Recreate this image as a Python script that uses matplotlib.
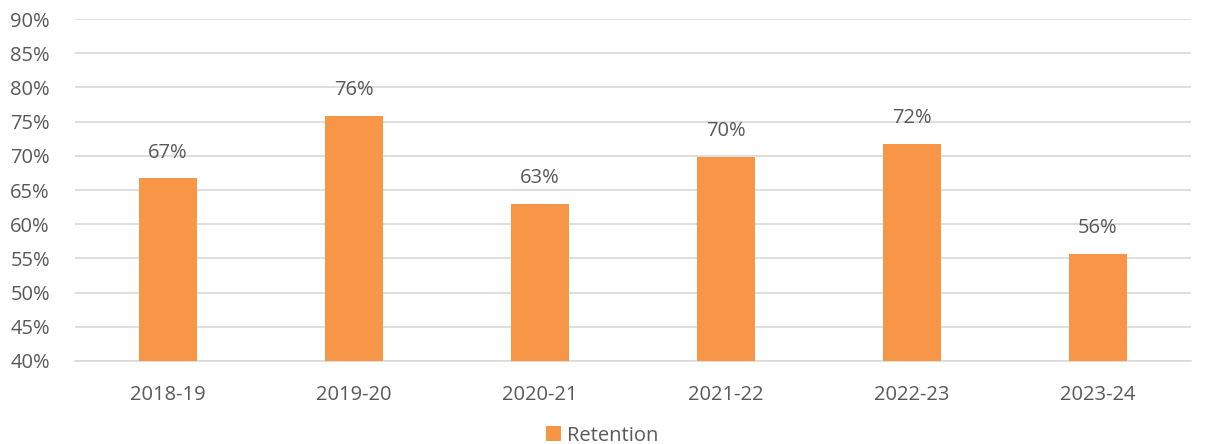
import matplotlib
matplotlib.use("Agg")
import matplotlib.pyplot as plt
from matplotlib.ticker import FuncFormatter

plt.rcParams['font.family'] = ['Open Sans', 'DejaVu Sans']

years = ["2018-19", "2019-20", "2020-21", "2021-22", "2022-23", "2023-24"]
retention = [66.7, 75.8, 63.0, 69.8, 71.8, 55.7]

bar_color = "#F79646"
text_color = "#595959"
grid_color = "#D9D9D9"

fig = plt.figure(figsize=(12.05, 4.44), dpi=100)
ax = fig.add_axes([0.0622, 0.187, 0.926, 0.770])

x = list(range(len(years)))
bars = ax.bar(x, retention, width=0.31, color=bar_color, label="Retention", zorder=3)

for xi, v in zip(x, retention):
    ax.text(xi, v + 2.3, f"{round(v)}%", ha="center", va="bottom",
            fontsize=14.5, color=text_color)

ax.set_ylim(40, 90)
ax.set_xlim(-0.5, len(years) - 0.5)
ax.set_yticks(range(40, 91, 5))
ax.yaxis.set_major_formatter(FuncFormatter(lambda v, p: f"{int(v)}%"))
ax.set_xticks(x)
ax.set_xticklabels(years)
ax.tick_params(axis="both", length=0, labelsize=14.5, labelcolor=text_color)
ax.tick_params(axis="x", pad=17)
ax.tick_params(axis="y", pad=18)
ax.grid(axis="y", color=grid_color, linewidth=1.2, zorder=0)
for side in ["top", "right", "left"]:
    ax.spines[side].set_visible(False)
ax.spines["bottom"].set_color(grid_color)
ax.spines["bottom"].set_linewidth(1.2)

fig.legend(handles=[bars], labels=["Retention"], loc="lower center",
           bbox_to_anchor=(0.5, -0.045), frameon=False, fontsize=14.5,
           handlelength=0.75, handleheight=0.75, handletextpad=0.3,
           labelcolor=text_color)

fig.savefig("out.png", dpi=100)
